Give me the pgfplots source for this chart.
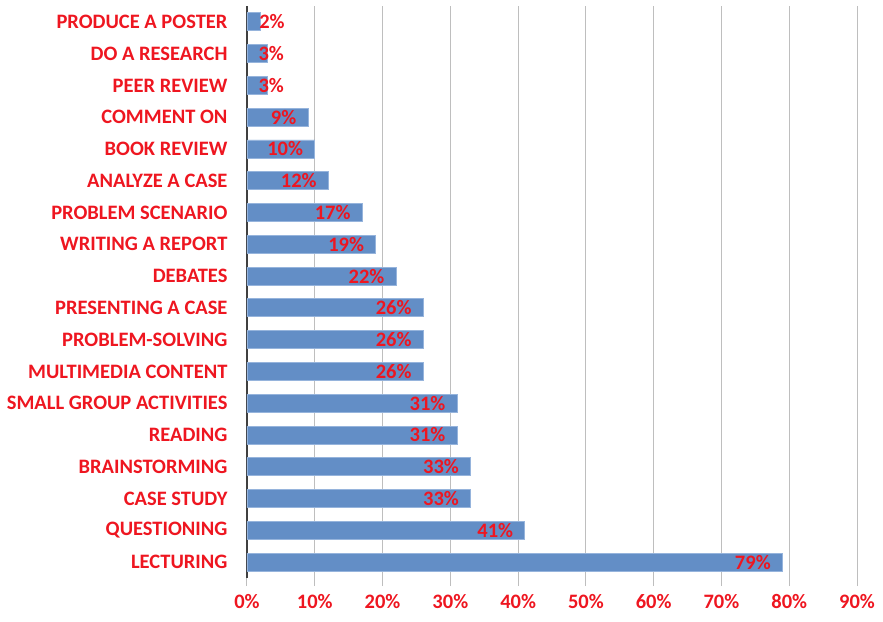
\documentclass[border=0pt]{standalone}
\usepackage{fontspec}
\setmainfont{Carlito}
\usepackage{pgfplots}
\pgfplotsset{compat=1.18}
\usetikzlibrary{calc}
\definecolor{lab}{RGB}{238,22,32}
\definecolor{barc}{RGB}{99,142,198}
\definecolor{bard}{RGB}{150,180,220}
\definecolor{gridc}{RGB}{190,190,190}
\pgfplotstableread{
x y
79 0
41 1
33 2
33 3
31 4
31 5
26 6
26 7
26 8
22 9
19 10
17 11
12 12
10 13
9 14
3 15
3 16
2 17
}\mydata
\begin{document}
\begin{tikzpicture}
\begin{axis}[name=ax, scale only axis, width=610pt, height=572pt,
  xbar, bar width=18pt, xmin=0, xmax=90, ymin=-0.5, ymax=17.5,
  /pgf/number format/assume math mode=true,
  xtick={0,10,...,90}, xticklabel={\pgfmathprintnumber{\tick}\%},
  ytick={0,...,17},
  yticklabels={LECTURING,QUESTIONING,CASE STUDY,BRAINSTORMING,READING,SMALL GROUP ACTIVITIES,MULTIMEDIA CONTENT,PROBLEM-SOLVING,PRESENTING A CASE,DEBATES,WRITING A REPORT,PROBLEM SCENARIO,ANALYZE A CASE,BOOK REVIEW,COMMENT ON,PEER REVIEW,DO A RESEARCH,PRODUCE A POSTER},
  xmajorgrids, major grid style={draw=gridc, line width=1pt},
  axis x line*=bottom, axis y line*=left,
  x axis line style={draw=none},
  y axis line style={draw=black!75, line width=2.5pt, -},
  xtick style={draw=gridc, line width=1pt},
  ytick style={draw=none},
  tick align=outside, major tick length=8pt,
  ticklabel style={font=\fontsize{20.5}{24}\selectfont\bfseries, text=lab},
  xticklabel style={yshift=-5pt},
  yticklabel style={xshift=-8pt},
  point meta=x,
  nodes near coords={\pgfmathprintnumber{\pgfplotspointmeta}\%},
  nodes near coords style={font=\fontsize{20.5}{24}\selectfont\bfseries, text=lab},
]
\addplot[fill=barc, draw=bard, line width=0.8pt,
  coordinate style/.condition={\pgfkeysvalueof{/data point/x} < 2.5}{anchor=west, xshift=-5pt},
  coordinate style/.condition={\pgfkeysvalueof{/data point/x} > 2.5 && \pgfkeysvalueof{/data point/x} < 5}{anchor=west, xshift=-12.5pt},
  coordinate style/.condition={\pgfkeysvalueof{/data point/x} > 5}{anchor=east, xshift=-8pt},
] table[x=x, y=y] {\mydata};
\end{axis}
\path ($(ax.south west)+(-247pt,-43pt)$) rectangle ($(ax.north east)+(26pt,6pt)$);
\end{tikzpicture}
\end{document}
